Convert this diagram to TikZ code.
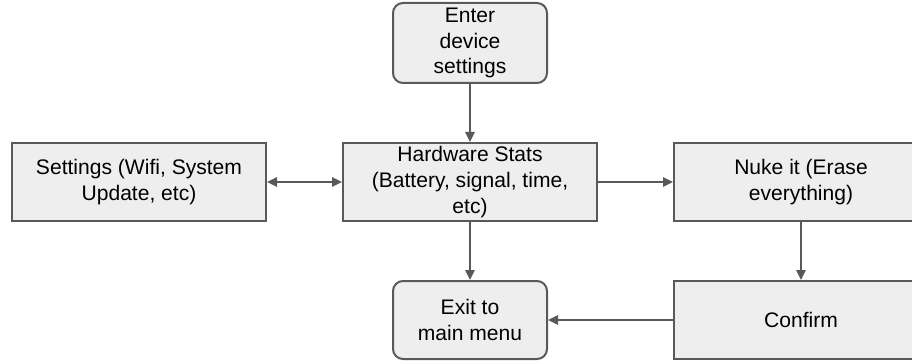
\documentclass[tikz,border=0pt]{standalone}
\usepackage{fontspec}
\setmainfont{Liberation Sans}
\usetikzlibrary{arrows.meta}

\begin{document}
\begin{tikzpicture}[x=0.75pt,y=-0.75pt,
  box/.style={draw=edge,fill=boxfill,line width=1.5pt,align=center,
    minimum width=190.5pt,minimum height=58.5pt,inner sep=2pt,
    font=\fontsize{15.8}{19.2}\selectfont},
  roundbox/.style={box,rounded corners=7.5pt,minimum width=115.5pt},
  link/.style={draw=edge,line width=1.5pt,-{Triangle[length=7.5pt,width=7pt]}}]
% Define colours
\definecolor{edge}{RGB}{89,89,89}
\definecolor{boxfill}{RGB}{238,238,238}

% Picture frame
\clip (0,0) rectangle (912,363);

% Draw steps
\node[roundbox,minimum height=60pt] (enter) at (470,43) {Enter\\device\\settings};
\node[box] (settings) at (139,182) {Settings (Wifi, System\\Update, etc)};
\node[box] (hw) at (470,182) {Hardware Stats\\(Battery, signal, time,\\etc)};
\node[box] (nuke) at (801,182) {Nuke it (Erase\\everything)};
\node[roundbox] (exit) at (470,320) {Exit to\\main menu};
\node[box] (confirm) at (801,320) {Confirm};

% Draw connections
\draw[link] (enter) -- (hw);
\draw[link,{Triangle[length=7.5pt,width=7pt]}-{Triangle[length=7.5pt,width=7pt]}] (settings) -- (hw);
\draw[link] (hw) -- (nuke);
\draw[link] (hw) -- (exit);
\draw[link] (nuke) -- (confirm);
\draw[link] (confirm) -- (exit);
\end{tikzpicture}
\end{document}
